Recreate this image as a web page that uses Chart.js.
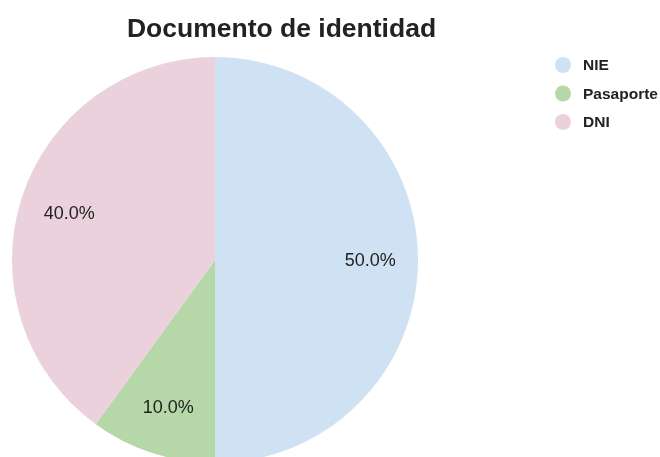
<!DOCTYPE html>
<html>
<head>
<meta charset="utf-8">
<script src="https://cdn.jsdelivr.net/npm/chart.js@4/dist/chart.umd.min.js"></script>
<style>
    html, body { margin: 0; padding: 0; background: #fff; overflow: hidden; }
    #wrap { width: 660px; height: 457px; overflow: hidden; }
</style>
</head>
<body>
<div id="wrap"><canvas id="chart" width="660" height="470"></canvas></div>
<script>
// Chart data
const chartTitle = 'Documento de identidad';
const categories = ['NIE', 'Pasaporte', 'DNI'];
const counts = [5, 1, 4];
const sliceColors = ['#cfe2f3', '#b6d7a8', '#ead1dc'];

const FONT = '"Liberation Sans", Arial, sans-serif';

// Draws title, legend and percent labels on the canvas
const textPlugin = {
    id: 'textPlugin',
    afterDatasetsDraw(chart) {
        const ctx = chart.ctx;
        const total = counts.reduce((a, b) => a + b, 0);
        const arcs = chart.getDatasetMeta(0).data;

        ctx.save();
        // percent labels inside slices
        ctx.font = '18px ' + FONT;
        ctx.fillStyle = '#222';
        ctx.textAlign = 'center';
        ctx.textBaseline = 'middle';
        arcs.forEach((arc, i) => {
            const p = arc.getProps(['x', 'y', 'startAngle', 'endAngle', 'outerRadius'], true);
            const mid = (p.startAngle + p.endAngle) / 2;
            const r = p.outerRadius * 0.76;
            const pct = (counts[i] / total * 100).toFixed(1) + '%';
            ctx.fillText(pct, p.x + Math.cos(mid) * r + 1, p.y + Math.sin(mid) * r + 1.5);
        });

        // title
        ctx.font = 'bold 26.5px ' + FONT;
        ctx.textBaseline = 'alphabetic';
        ctx.fillText(chartTitle, 281.5, 37);

        // legend
        ctx.font = 'bold 15.5px ' + FONT;
        ctx.textAlign = 'left';
        ctx.textBaseline = 'middle';
        categories.forEach((name, i) => {
            const y = 65 + i * 28.5;
            ctx.beginPath();
            ctx.arc(563, y, 8, 0, Math.PI * 2);
            ctx.fillStyle = sliceColors[i];
            ctx.fill();
            ctx.fillStyle = '#222';
            ctx.fillText(name, 583, y + 1);
        });
        ctx.restore();
    }
};

new Chart(document.getElementById('chart'), {
    type: 'pie',
    data: {
        labels: categories,
        datasets: [{
            data: counts,
            backgroundColor: sliceColors,
            borderWidth: 0
        }]
    },
    options: {
        responsive: false,
        animation: false,
        devicePixelRatio: 1,
        layout: {
            padding: { left: 12, top: 57, right: 242, bottom: 7 }
        },
        plugins: {
            legend: { display: false },
            title: { display: false },
            tooltip: { enabled: false }
        }
    },
    plugins: [textPlugin]
});
</script>
</body>
</html>
